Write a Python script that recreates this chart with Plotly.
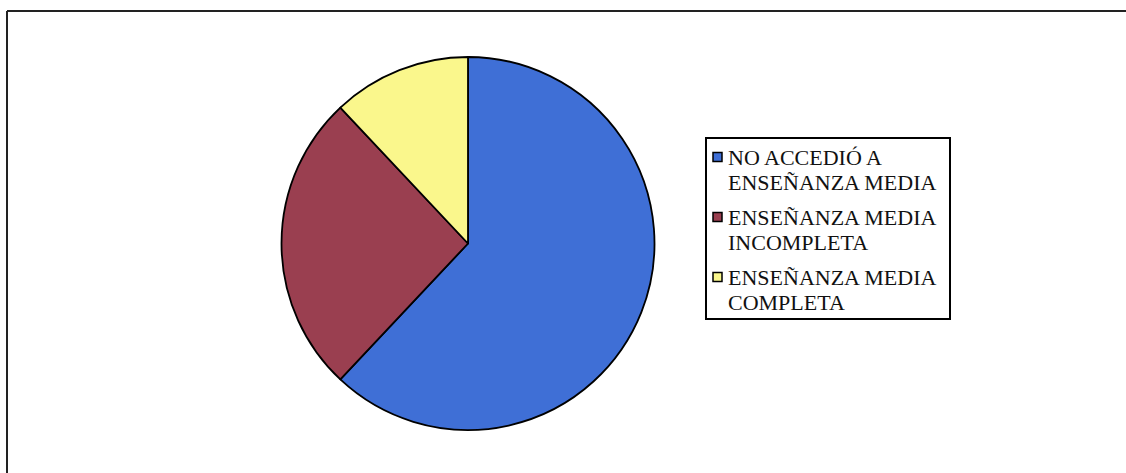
import plotly.graph_objects as go

labels = ["NO ACCEDIÓ A ENSEÑANZA MEDIA", "ENSEÑANZA MEDIA INCOMPLETA", "ENSEÑANZA MEDIA COMPLETA"]
legend_lines = [["NO ACCEDIÓ A", "ENSEÑANZA MEDIA"], ["ENSEÑANZA MEDIA", "INCOMPLETA"], ["ENSEÑANZA MEDIA", "COMPLETA"]]
values = [62, 26, 12]
colors = ["#3F6FD6", "#9A3F50", "#FAF78C"]

W, H = 1126, 473
cx, cy, r = 468, 243.5, 186.5

fig = go.Figure(go.Pie(
    labels=labels, values=values, sort=False, direction="clockwise", rotation=0,
    marker=dict(colors=colors, line=dict(color="black", width=1.8)),
    textinfo="none", hoverinfo="label+percent", showlegend=False,
    domain=dict(x=[(cx - r) / W, (cx + r) / W], y=[(H - cy - r) / H, (H - cy + r) / H]),
))

def px(x):
    return x / W

def py(y):
    return 1 - y / H

shapes = []
annotations = []
# outer frame (top and left edges visible)
shapes.append(dict(type="line", xref="paper", yref="paper", x0=px(7), x1=1, y0=py(11), y1=py(11), line=dict(color="#222", width=2)))
shapes.append(dict(type="line", xref="paper", yref="paper", x0=px(7), x1=px(7), y0=py(11), y1=0, line=dict(color="#222", width=2)))

# legend
lx0, ly0, lx1, ly1 = 706, 138, 950, 319
shapes.append(dict(type="rect", xref="paper", yref="paper", x0=px(lx0), x1=px(lx1), y0=py(ly0), y1=py(ly1), line=dict(color="black", width=2), fillcolor="white", layer="below"))
first_line_y = [157, 217, 277]
line_gap = 25
for i, (lines, col) in enumerate(zip(legend_lines, colors)):
    y1 = first_line_y[i]
    shapes.append(dict(type="rect", xref="paper", yref="paper", x0=px(713), x1=px(722), y0=py(y1 - 4.5), y1=py(y1 + 4.5), line=dict(color="black", width=1.5), fillcolor=col))
    for j, t in enumerate(lines):
        annotations.append(dict(xref="paper", yref="paper", x=px(726), y=py(y1 + j * line_gap), text=t, showarrow=False, xanchor="left", yanchor="middle", font=dict(family="Liberation Serif", size=22, color="#111")))

fig.update_layout(width=W, height=H, margin=dict(l=0, r=0, t=0, b=0), paper_bgcolor="white", plot_bgcolor="white",
                  shapes=shapes, annotations=annotations, showlegend=False)
fig.write_html("out.html")
